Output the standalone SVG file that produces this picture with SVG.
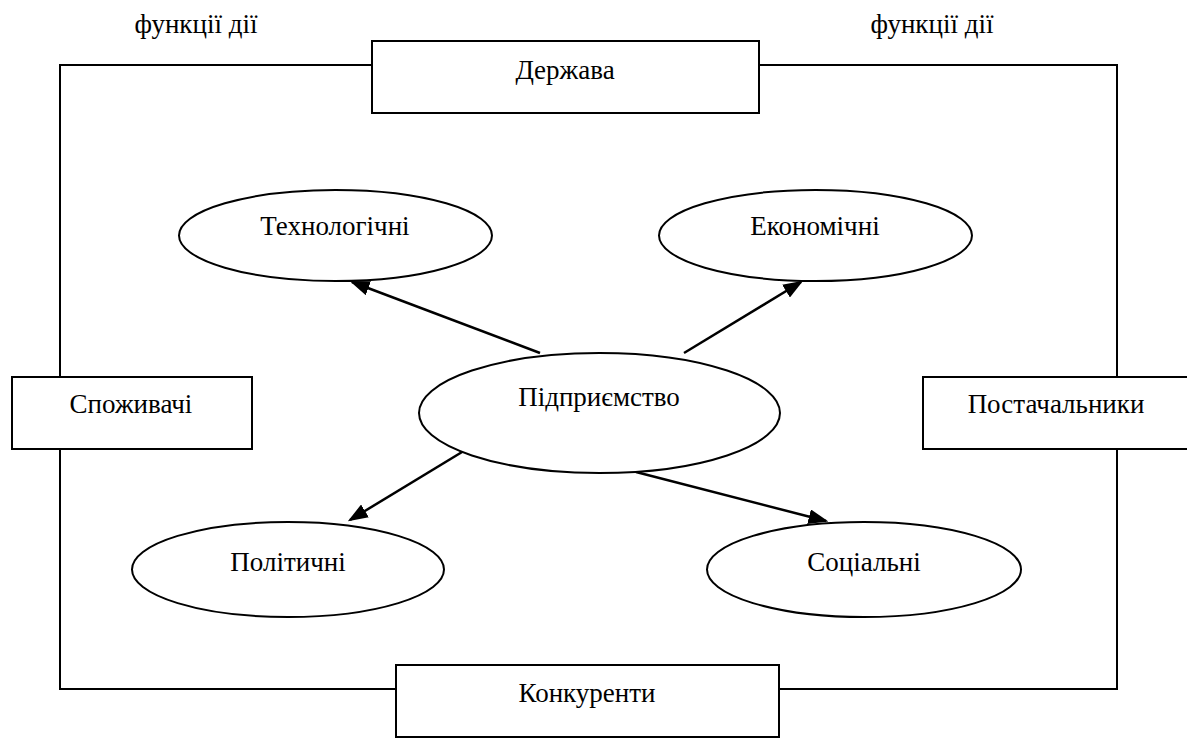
<svg xmlns="http://www.w3.org/2000/svg" width="1187" height="738" viewBox="0 0 1187 738" font-family="'Liberation Serif', serif">
<style>
text{font-family:'Liberation Serif','DejaVu Serif',serif;font-size:27px;fill:#000;text-anchor:middle}
.box{fill:#fff;stroke:#000;stroke-width:2}
.ell{fill:#fff;stroke:#000;stroke-width:2}
.frame{fill:none;stroke:#000;stroke-width:2}
.arr{stroke:#000;stroke-width:2.5;fill:none;marker-end:url(#ah)}
</style>
<defs>
<marker id="ah" markerWidth="8" markerHeight="6" refX="7" refY="3" orient="auto" markerUnits="strokeWidth">
<path d="M0,0 L8,3 L0,6 Z" fill="#000"/>
</marker>
</defs>
<rect width="1187" height="738" fill="#fff"/>
<text x="196" y="33">функції дії</text>
<text x="932" y="33">функції дії</text>
<g id="connectors">
<polyline class="frame" points="372,65 60,65 60,378"/>
<polyline class="frame" points="759,65 1117,65 1117,378"/>
<polyline class="frame" points="60,449 60,689 396,689"/>
<polyline class="frame" points="1117,449 1117,689 779,689"/>
<line class="arr" x1="540" y1="353" x2="352" y2="282"/>
<line class="arr" x1="684" y1="353" x2="801" y2="282"/>
<line class="arr" x1="467" y1="449" x2="350" y2="520"/>
<line class="arr" x1="636" y1="472" x2="826" y2="521"/>
</g>
<g id="derzhava"><rect class="box" x="372" y="41" width="387" height="72"/><text x="565" y="79">Держава</text></g>
<g id="spozhyvachi"><rect class="box" x="12" y="377" width="240" height="72"/><text x="131" y="413">Споживачі</text></g>
<g id="postachalnyky"><rect class="box" x="923" y="377" width="270" height="72"/><text x="1056" y="413">Постачальники</text></g>
<g id="konkurenty"><rect class="box" x="396" y="665" width="383" height="72"/><text x="587" y="702">Конкуренти</text></g>
<g id="tekhnolohichni"><ellipse class="ell" cx="335.5" cy="235.5" rx="156.5" ry="45.5"/><text x="335" y="235">Технологічні</text></g>
<g id="ekonomichni"><ellipse class="ell" cx="815.5" cy="235.5" rx="156.5" ry="45.5"/><text x="815" y="235">Економічні</text></g>
<g id="pidpryiemstvo"><ellipse class="ell" cx="599.5" cy="413" rx="180.5" ry="60"/><text x="599" y="406">Підприємство</text></g>
<g id="politychni"><ellipse class="ell" cx="288" cy="569.5" rx="156" ry="47.5"/><text x="288" y="571">Політичні</text></g>
<g id="sotsialni"><ellipse class="ell" cx="864" cy="569.5" rx="157" ry="47.5"/><text x="864" y="571">Соціальні</text></g>
</svg>
